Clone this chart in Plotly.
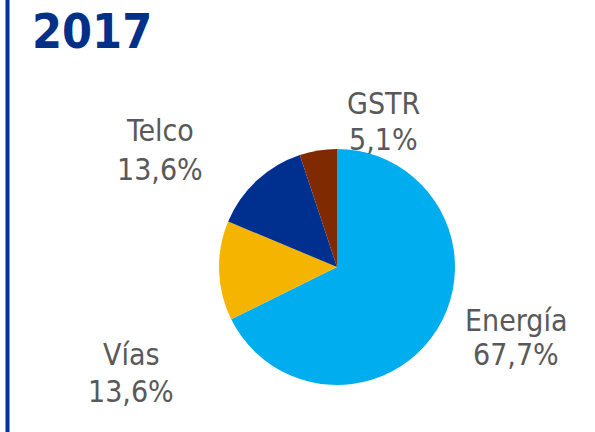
import plotly.graph_objects as go

# Data
labels = ["Energía", "Vías", "Telco", "GSTR"]
values = [67.7, 13.6, 13.6, 5.1]
colors = ["#00ADEE", "#F5B400", "#00308F", "#7F2A00"]
title_text = "2017"

W, H = 595, 432
cx, cy, r = 337, 267, 118

# Label placement (pixel centres of the two text lines), styling only
label_pos = {
    "Energía": (516, 320, 354),
    "Vías": (131, 354, 391),
    "Telco": (160, 131, 169),
    "GSTR": (383, 104, 139),
}

fig = go.Figure()
fig.add_trace(go.Pie(
    labels=labels,
    values=values,
    sort=False,
    direction="clockwise",
    rotation=0,
    marker=dict(colors=colors, line=dict(width=0)),
    textinfo="none",
    hoverinfo="label+percent",
    showlegend=False,
    domain=dict(x=[(cx - r) / W, (cx + r) / W], y=[(H - cy - r) / H, (H - cy + r) / H]),
))

font_lbl = dict(family="DejaVu Sans Condensed, DejaVu Sans", size=30, color="#595959")
anns = []
for lab, val in zip(labels, values):
    px, y1, y2 = label_pos[lab]
    pct = f"{val:.1f}".replace(".", ",") + "%"
    for txt, py in ((lab, y1), (pct, y2)):
        anns.append(dict(x=px / W, y=1 - py / H, xref="paper", yref="paper",
                         text=txt, showarrow=False, xanchor="center", yanchor="middle",
                         font=font_lbl))

anns.append(dict(x=30 / W, y=1 - 31 / H, xref="paper", yref="paper", text="<b>" + title_text + "</b>",
                 showarrow=False, xanchor="left", yanchor="middle",
                 font=dict(family="DejaVu Sans Condensed, DejaVu Sans", size=48, color="#003087")))

fig.update_layout(
    width=W, height=H,
    margin=dict(l=0, r=0, t=0, b=0),
    paper_bgcolor="white", plot_bgcolor="white",
    annotations=anns,
    shapes=[dict(type="line", xref="paper", yref="paper", x0=7.5 / W, x1=7.5 / W, y0=0, y1=1,
                 line=dict(color="#003399", width=4))],
)

fig.write_html("out.html", config={"displayModeBar": False},
               post_script="document.body.style.margin='0';")
